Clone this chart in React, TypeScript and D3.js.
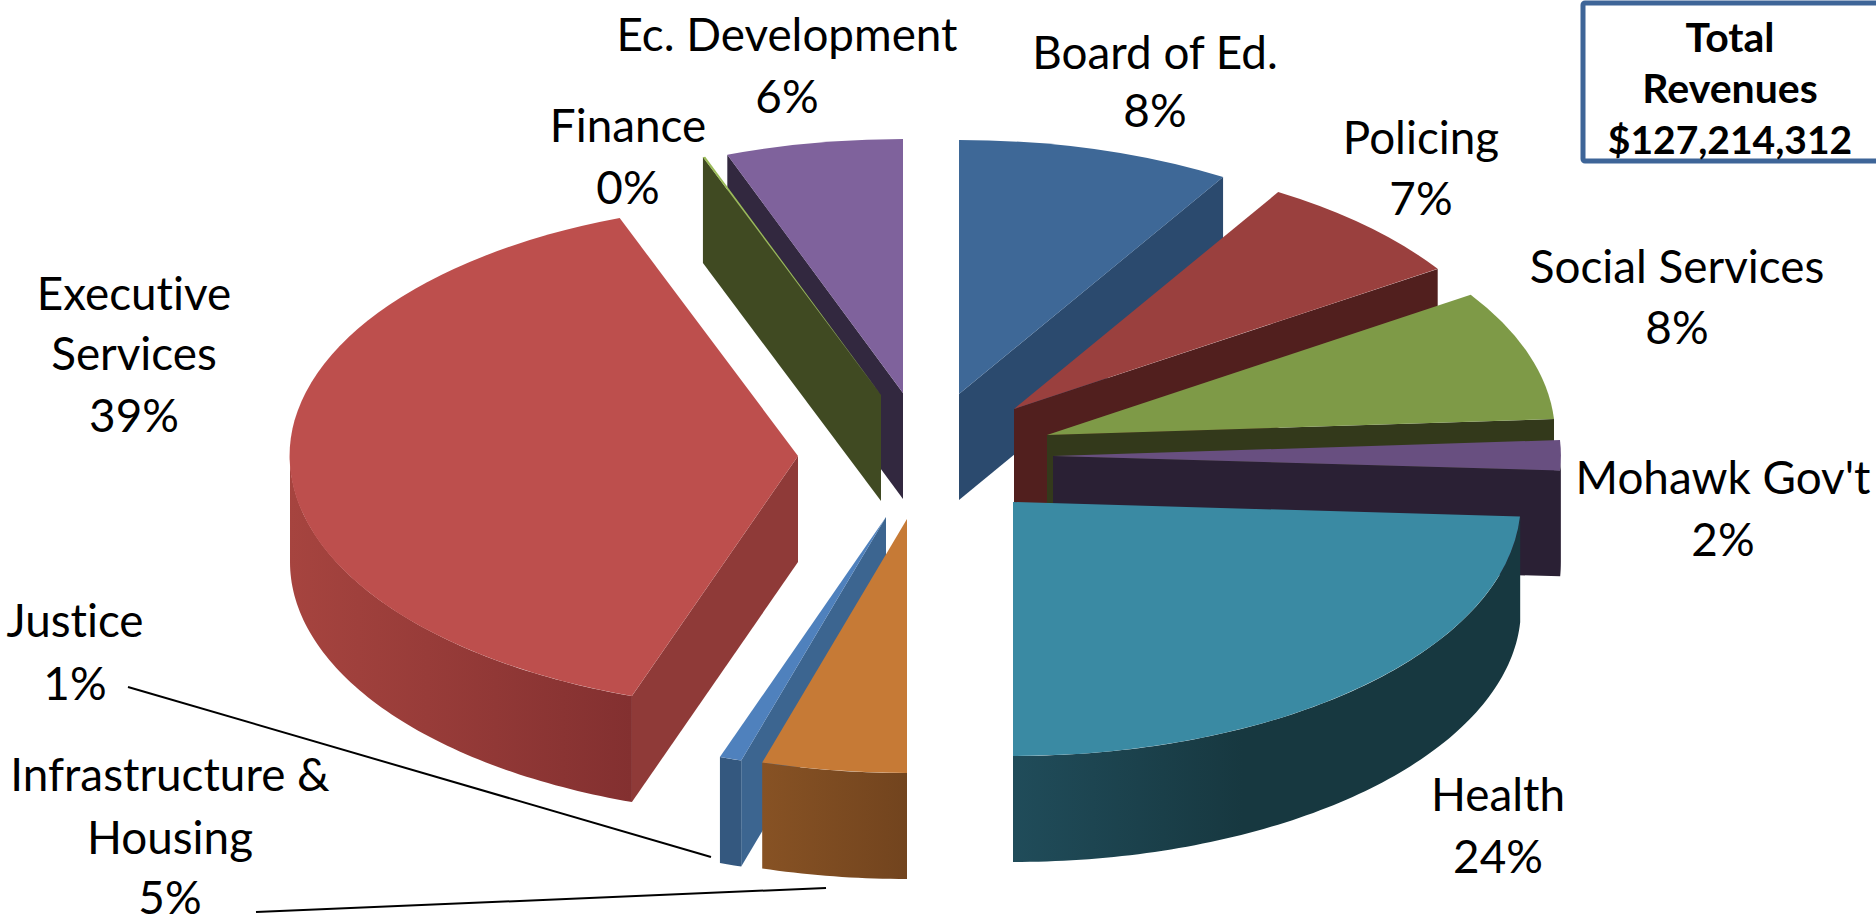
import React, { useEffect, useRef } from "react";
import * as d3 from "d3";

const WIDTH = 1876;
const HEIGHT = 919;

// Data, clockwise from 12 o'clock
const categories = ["Board of Ed.", "Policing", "Social Services", "Mohawk Gov't", "Health", "Infrastructure & Housing", "Justice", "Executive Services", "Finance", "Ec. Development"];
const shares = [8.7, 7.0, 8.3, 1.9, 24.1, 4.6, 0.7, 39.0, 0.08, 5.62];
const percentLabels = ["8%", "7%", "8%", "2%", "24%", "5%", "1%", "39%", "0%", "6%"];
const totalLines = ["Total", "Revenues", "$127,214,312"];

// Styling
const topColors = ["#3E6897", "#9A403E", "#7E9A47", "#684F80", "#3A8AA3", "#C67A36", "#4F81BD", "#BD4F4D", "#9BBB59", "#7F629C"];
const wallColors = ["#2B4A6E", "#511F1E", "#33391B", "#2A2034", "#183A42", "#72441E", "#3C6590", "#8F3A38", "#404A22", "#32283F"];
const rimLeft = ["#2B4A6E", "#511F1E", "#33391B", "#2A2034", "#204C5A", "#875224", "#34587F", "#A6443F", "#404A22", "#32283F"];
const rimRight = ["#2B4A6E", "#511F1E", "#33391B", "#2A2034", "#173840", "#72441E", "#34587F", "#833030", "#404A22", "#32283F"];

// Layout
const apexX = [959, 1014, 1047, 1053, 1013, 907, 886, 798, 881, 903];
const apexY = [394, 409, 435, 456, 502, 519, 517, 456, 395, 393];
const RX = 508;
const RY = 254;
const DEPTH = 106;
const paintOrder = [9, 8, 0, 1, 2, 3, 7, 6, 5, 4];

const labelX = [1155, 1421, 1677, 1723, 1498, 170, 75, 134, 628, 787];
const labelY = [[69, 127], [154, 215], [283, 344], [494, 556], [811, 873], [791, 854, 914], [637, 700], [310, 370, 432], [142, 204], [51, 113]];
const labelLines = [["Board of Ed."], ["Policing"], ["Social Services"], ["Mohawk Gov't"], ["Health"], ["Infrastructure &", "Housing"], ["Justice"], ["Executive", "Services"], ["Finance"], ["Ec. Development"]];
const leaders = [
  { x1: 128, y1: 687, x2: 711, y2: 857 },
  { x1: 256, y1: 912, x2: 826, y2: 888 },
];
const boxY = [52, 103, 154];
const boxSize = [41, 41, 39];

export default function App() {
  const ref = useRef<SVGSVGElement | null>(null);
  useEffect(() => {
    const svg = d3.select(ref.current!);
    svg.selectAll("*").remove();
    const pie = d3.pie<number>().sort(null).startAngle(0).endAngle(2 * Math.PI);
    const arcs = pie(shares);
    const xS = d3.scaleLinear().domain([-1, 1]).range([-RX, RX]);
    const yS = d3.scaleLinear().domain([-1, 1]).range([-RY, RY]);
    const pt = (i: number, a: number): [number, number] => [apexX[i] + xS(Math.sin(a)), apexY[i] + yS(-Math.cos(a))];
    const line = d3.line();
    const face = d3.arc<any>().innerRadius(0).outerRadius(1);
    const defs = svg.append("defs");

    paintOrder.forEach((i) => {
      const d = arcs[i];
      const g = svg.append("g").attr("data-name", categories[i]);
      const apex: [number, number] = [apexX[i], apexY[i]];
      const mid = (d.startAngle + d.endAngle) / 2;
      const c = pt(i, mid);
      const cx = (c[0] + apex[0]) / 2;
      const cy = (c[1] + apex[1]) / 2;
      [d.startAngle, d.endAngle].forEach((a) => {
        const p = pt(i, a);
        const dx = p[0] - apex[0];
        if (Math.abs(dx) < 1) return;
        const lineY = apex[1] + ((p[1] - apex[1]) * (cx - apex[0])) / dx;
        if (cy >= lineY) return;
        g.append("path")
          .attr("d", line([apex, p, [p[0], p[1] + DEPTH], [apex[0], apex[1] + DEPTH]])! + "Z")
          .attr("fill", wallColors[i]);
      });
      const a0 = Math.max(d.startAngle, Math.PI / 2);
      const a1 = Math.min(d.endAngle, (3 * Math.PI) / 2);
      if (a1 > a0) {
        const n = Math.max(2, Math.ceil((a1 - a0) * 60));
        const angles = d3.range(n + 1).map((k) => a0 + ((a1 - a0) * k) / n);
        const upper = angles.map((a) => pt(i, a));
        const lower = upper.slice().reverse().map((p) => [p[0], p[1] + DEPTH] as [number, number]);
        const xs = upper.map((p) => p[0]);
        const id = `rim${i}`;
        const grad = defs.append("linearGradient").attr("id", id).attr("gradientUnits", "userSpaceOnUse")
          .attr("x1", d3.min(xs)!).attr("x2", i === 4 ? d3.min(xs)! + 230 : d3.max(xs)!).attr("y1", 0).attr("y2", 0);
        grad.append("stop").attr("offset", 0).attr("stop-color", rimLeft[i]);
        grad.append("stop").attr("offset", 1).attr("stop-color", rimRight[i]);
        g.append("path").attr("d", line([...upper, ...lower])! + "Z").attr("fill", `url(#${id})`);
      }
      g.append("path")
        .attr("transform", `translate(${apexX[i]},${apexY[i]}) scale(${RX},${RY})`)
        .attr("d", face(d)!)
        .attr("fill", topColors[i]);
    });

    leaders.forEach((l) => {
      svg.append("line").attr("x1", l.x1).attr("y1", l.y1).attr("x2", l.x2).attr("y2", l.y2)
        .attr("stroke", "#000").attr("stroke-width", 2);
    });

    const text = svg.append("g").attr("font-family", "Lato, sans-serif").attr("font-size", 45.8).attr("fill", "#000")
      .attr("text-anchor", "middle").style("font-variant-ligatures", "none");
    categories.forEach((_, i) => {
      const rows = [...labelLines[i], percentLabels[i]];
      rows.forEach((r, k) => {
        text.append("text").attr("x", labelX[i]).attr("y", labelY[i][k]).text(r);
      });
    });

    svg.append("rect").attr("x", 1583).attr("y", 3).attr("width", 320).attr("height", 158).attr("rx", 2)
      .attr("fill", "#fff").attr("stroke", "#3E6598").attr("stroke-width", 5);
    const box = svg.append("g").attr("font-family", "Lato, sans-serif").attr("font-weight", 700).attr("fill", "#000").attr("text-anchor", "middle");
    totalLines.forEach((t, k) => box.append("text").attr("x", 1730).attr("y", boxY[k]).attr("font-size", boxSize[k]).text(t));
  }, []);
  return (
    <svg ref={ref} width={WIDTH} height={HEIGHT} viewBox={`0 0 ${WIDTH} ${HEIGHT}`}
      style={{ position: "fixed", left: 0, top: 0, background: "#fff", display: "block" }} />
  );
}
